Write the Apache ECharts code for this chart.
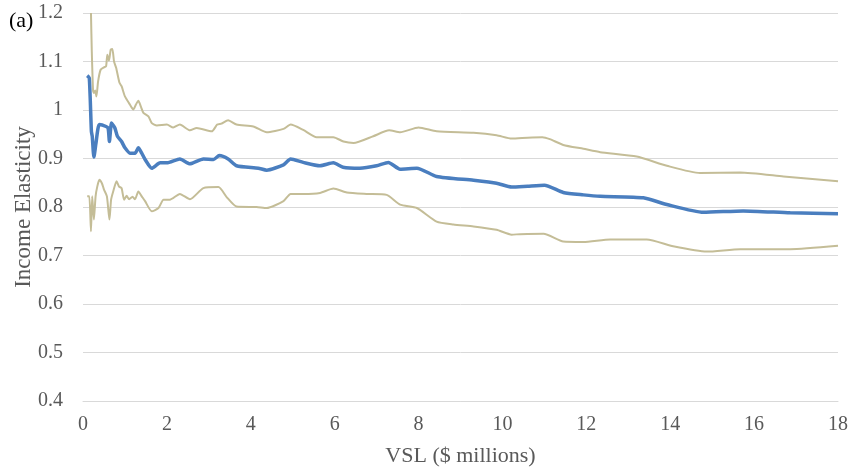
<!DOCTYPE html>
<html>
<head>
<meta charset="utf-8">
<script src="https://cdn.jsdelivr.net/npm/echarts@6/dist/echarts.min.js"></script>
<style>
  html, body { margin: 0; padding: 0; background: #fff; }
  #chart { width: 853px; height: 472px; }
</style>
</head>
<body>
<div id="chart"></div>
<script>
// [VSL ($ millions), income elasticity]
const central = [
  [0.10, 1.071], [0.15, 1.066], [0.20, 0.956], [0.22, 0.946], [0.26, 0.903], [0.31, 0.932],
  [0.39, 0.970], [0.55, 0.966], [0.60, 0.962], [0.63, 0.935], [0.68, 0.973], [0.76, 0.963],
  [0.82, 0.946], [0.92, 0.935], [1.0, 0.922], [1.12, 0.911], [1.24, 0.911], [1.32, 0.922],
  [1.40, 0.911], [1.48, 0.898], [1.64, 0.880], [1.84, 0.891], [2.0, 0.891], [2.31, 0.899],
  [2.55, 0.889], [2.87, 0.899], [3.11, 0.898], [3.25, 0.906], [3.46, 0.899], [3.66, 0.885],
  [4.18, 0.880], [4.38, 0.876], [4.78, 0.887], [4.95, 0.899], [5.25, 0.892], [5.65, 0.885],
  [5.97, 0.891], [6.2, 0.882], [6.6, 0.880], [7.0, 0.885], [7.28, 0.892], [7.56, 0.878],
  [7.96, 0.880], [8.43, 0.863], [9.31, 0.855], [9.86, 0.849], [10.22, 0.841], [10.6, 0.843],
  [11.0, 0.845], [11.45, 0.830], [11.93, 0.825], [12.33, 0.822], [13.36, 0.819], [13.92, 0.805],
  [14.79, 0.789], [15.74, 0.792], [16.86, 0.788], [18.0, 0.786]
]
const upper = [
  [0.19, 1.2], [0.21, 1.12], [0.24, 1.04], [0.26, 1.035], [0.29, 1.04], [0.32, 1.028],
  [0.36, 1.059], [0.42, 1.083], [0.5, 1.088], [0.55, 1.090], [0.58, 1.114], [0.62, 1.102],
  [0.66, 1.124], [0.70, 1.126], [0.74, 1.100], [0.79, 1.087], [0.87, 1.056], [0.92, 1.049],
  [1.0, 1.028], [1.12, 1.011], [1.2, 1.001], [1.26, 1.011], [1.32, 1.019], [1.38, 1.007],
  [1.44, 0.994], [1.56, 0.987], [1.64, 0.973], [1.76, 0.968], [2.0, 0.970], [2.15, 0.964],
  [2.31, 0.970], [2.55, 0.958], [2.71, 0.963], [3.07, 0.956], [3.2, 0.970], [3.3, 0.972],
  [3.46, 0.979], [3.66, 0.970], [4.06, 0.966], [4.38, 0.954], [4.78, 0.961], [4.95, 0.970],
  [5.25, 0.959], [5.57, 0.944], [5.97, 0.944], [6.21, 0.935], [6.45, 0.932], [6.92, 0.946],
  [7.3, 0.958], [7.56, 0.954], [8.0, 0.964], [8.43, 0.956], [9.31, 0.953], [9.86, 0.948],
  [10.22, 0.941], [10.6, 0.943], [10.95, 0.944], [11.13, 0.940], [11.45, 0.928], [11.93, 0.920],
  [12.33, 0.913], [13.2, 0.904], [13.92, 0.885], [14.71, 0.870], [15.67, 0.871], [16.7, 0.863],
  [18.0, 0.853]
]
const lower = [
  [0.10, 0.822], [0.15, 0.822], [0.19, 0.750], [0.22, 0.822], [0.26, 0.774], [0.30, 0.822],
  [0.34, 0.842], [0.39, 0.856], [0.45, 0.849], [0.50, 0.836], [0.57, 0.822], [0.63, 0.774],
  [0.67, 0.815], [0.72, 0.832], [0.80, 0.853], [0.86, 0.842], [0.92, 0.839], [0.98, 0.815],
  [1.04, 0.823], [1.10, 0.816], [1.18, 0.821], [1.24, 0.816], [1.32, 0.832], [1.40, 0.822],
  [1.48, 0.812], [1.64, 0.791], [1.80, 0.798], [1.92, 0.815], [2.07, 0.815], [2.31, 0.827],
  [2.55, 0.816], [2.87, 0.839], [3.23, 0.841], [3.42, 0.821], [3.66, 0.801], [4.14, 0.800],
  [4.38, 0.798], [4.78, 0.812], [4.95, 0.827], [5.25, 0.827], [5.65, 0.829], [5.97, 0.838],
  [6.29, 0.830], [6.76, 0.827], [7.24, 0.825], [7.56, 0.805], [7.96, 0.798], [8.43, 0.770],
  [8.83, 0.764], [9.31, 0.760], [9.86, 0.753], [10.22, 0.743], [10.42, 0.744], [10.98, 0.745],
  [11.45, 0.729], [11.93, 0.728], [12.57, 0.733], [13.44, 0.733], [14.07, 0.719], [14.87, 0.708],
  [15.67, 0.713], [16.86, 0.713], [18.0, 0.720]
]

const font = 'Liberation Serif'
const labelColor = '#595959'
const bandColor = '#C4BD97'
const lineColor = '#4A7EBF'

const chart = echarts.init(document.getElementById('chart'), null, { renderer: 'canvas' })

chart.setOption({
  animation: false,
  textStyle: { fontFamily: font },
  title: {
    text: '(a)',
    left: 4,
    top: 5,
    textStyle: { fontFamily: font, fontSize: 22, fontWeight: 'normal', color: '#000' }
  },
  grid: { left: 83, right: 15, top: 13, bottom: 71, outerBoundsMode: 'none', containLabel: false },
  xAxis: {
    type: 'value',
    min: 0,
    max: 18,
    interval: 2,
    name: 'VSL ($ millions)',
    nameLocation: 'middle',
    nameGap: 44,
    nameMoveOverlap: false,
    nameTextStyle: { fontFamily: font, fontSize: 22, color: labelColor },
    axisLine: { show: true, lineStyle: { color: '#D9D9D9', width: 1 } },
    axisTick: { show: false },
    splitLine: { show: false },
    axisLabel: { fontFamily: font, fontSize: 20, color: labelColor, margin: 14 }
  },
  yAxis: {
    type: 'value',
    min: 0.4,
    max: 1.2,
    interval: 0.1,
    name: 'Income Elasticity',
    nameLocation: 'middle',
    nameGap: 48,
    nameMoveOverlap: false,
    nameTextStyle: { fontFamily: font, fontSize: 23, color: labelColor },
    axisLine: { show: false },
    axisTick: { show: false },
    splitLine: { lineStyle: { color: '#D9D9D9', width: 1 } },
    axisLabel: {
      fontFamily: font,
      fontSize: 20,
      color: labelColor,
      margin: 20,
      formatter: v => String(Math.round(v * 10) / 10)
    }
  },
  series: [
    {
      name: 'upper',
      type: 'line',
      data: upper,
      showSymbol: false,
      smooth: 0.2,
      lineStyle: { color: bandColor, width: 2 },
      z: 2
    },
    {
      name: 'lower',
      type: 'line',
      data: lower,
      showSymbol: false,
      smooth: 0.2,
      lineStyle: { color: bandColor, width: 2 },
      z: 2
    },
    {
      name: 'estimate',
      type: 'line',
      data: central,
      showSymbol: false,
      smooth: 0.2,
      lineStyle: { color: lineColor, width: 3.5 },
      z: 3
    }
  ]
})
</script>
</body>
</html>
